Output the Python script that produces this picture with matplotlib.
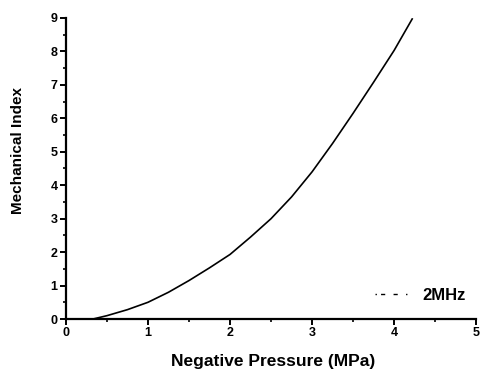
import matplotlib
matplotlib.use("Agg")
import matplotlib.pyplot as plt
from matplotlib.lines import Line2D
from matplotlib.ticker import MultipleLocator

plt.rcParams['font.family'] = ['Liberation Sans', 'DejaVu Sans']

pressure = [0.33, 0.5, 0.75, 1.0, 1.25, 1.5, 1.75, 2.0, 2.25, 2.5, 2.75,
            3.0, 3.25, 3.5, 3.75, 4.0, 4.22]
mech_index = [0.0, 0.1, 0.28, 0.5, 0.8, 1.15, 1.53, 1.93, 2.45, 3.0, 3.65,
              4.4, 5.25, 6.15, 7.08, 8.03, 8.97]
series_label = "2MHz"
x_ticks = [0, 1, 2, 3, 4, 5]
y_ticks = [0, 1, 2, 3, 4, 5, 6, 7, 8, 9]

fig = plt.figure(figsize=(4.81, 3.74), dpi=100)
ax = fig.add_axes([0.137, 0.147, 0.853, 0.805])

ax.plot(pressure, mech_index, color='black', lw=1.2)

ax.set_xlim(0, 5)
ax.set_ylim(0, 9)
ax.set_xticks(x_ticks)
ax.set_yticks(y_ticks)
ax.xaxis.set_minor_locator(MultipleLocator(0.5))
ax.yaxis.set_minor_locator(MultipleLocator(0.5))
for s in ['top', 'right']:
    ax.spines[s].set_visible(False)
for s in ['left', 'bottom']:
    ax.spines[s].set_linewidth(1.6)
ax.tick_params(which='major', direction='out', length=4, width=1.4, labelsize=9, pad=2)
ax.tick_params(which='minor', direction='out', length=2, width=1.2)
for lab in ax.get_xticklabels() + ax.get_yticklabels():
    lab.set_fontweight('bold')

ax.set_xlabel("Negative Pressure (MPa)", fontsize=12.5, fontweight='bold')
ax.xaxis.set_label_coords(0.505, -0.115)
ax.set_ylabel("Mechanical Index", fontsize=11, fontweight='bold')
ax.yaxis.set_label_coords(-0.1, 0.561)

handle = Line2D([], [], color='black', lw=1.0, linestyle=(0, (1, 3, 3, 6, 3, 6)))
ax.legend([handle], [series_label], loc='lower right', frameon=False,
          bbox_to_anchor=(1.01, 0.005), handlelength=2.0, handletextpad=0.8,
          prop={'weight': 'bold', 'size': 12})

fig.savefig("out.png", dpi=100)
